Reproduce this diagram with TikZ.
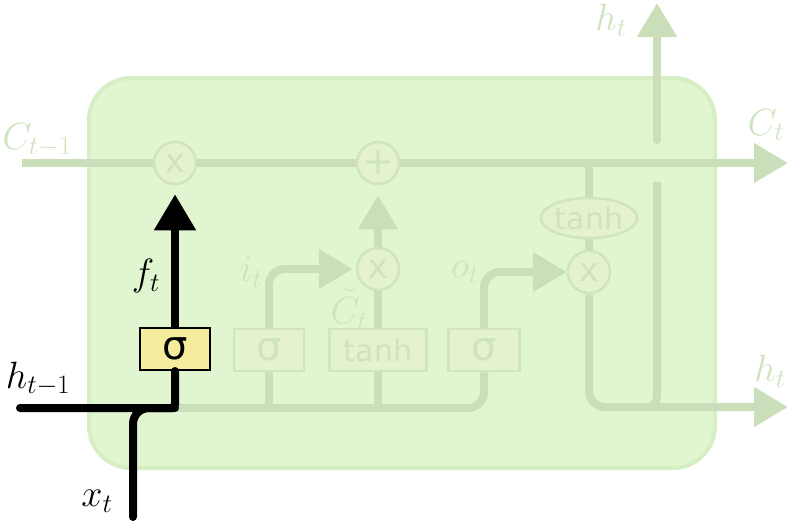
\RequirePackage{fix-cm}
\documentclass[tikz,border=0pt]{standalone}
\usepackage{fontspec}
\newfontfamily\dv{DejaVu Sans}
\usetikzlibrary{arrows.meta,shapes.geometric}
\definecolor{cellfill}{RGB}{224,245,208}
\definecolor{celledge}{RGB}{213,238,195}
\definecolor{fline}{RGB}{202,223,185}
\definecolor{fbox}{RGB}{228,243,206}
\definecolor{fboxedge}{RGB}{207,228,191}
\definecolor{ftext}{RGB}{205,228,189}
\definecolor{sigyellow}{RGB}{245,236,158}
\pgfdeclarelayer{bg}
\pgfdeclarelayer{mid}
\pgfsetlayers{bg,mid,main}
\begin{document}
\begin{tikzpicture}[x=1pt,y=-1pt,
  faded/.style={line width=8pt, draw=fline},
  fadedarrow/.style={faded, -{Triangle[length=34pt,width=38pt]}},
  hot/.style={line width=8pt, draw=black, line cap=round},
  gatebox/.style={draw=fboxedge, fill=fbox, line width=2.5pt, minimum width=70pt, minimum height=42pt, inner sep=0pt, text=ftext},
  sigfont/.style={font=\dv\fontsize{40}{40}\selectfont},
  tanhfont/.style={font=\dv\fontsize{30}{30}\selectfont},
  opcircle/.style={circle, draw=fboxedge, fill=fbox, line width=2.5pt, minimum size=42pt, inner sep=0pt, text=ftext, font=\dv\fontsize{33}{33}\selectfont},
  lbl/.style={font=\fontsize{38}{38}\selectfont, inner sep=0pt},
  flbl/.style={lbl, text=ftext}
]
\useasboundingbox (0,0) rectangle (789,525);

% coordinates
\coordinate (cin) at (22,163);
\coordinate (cout) at (788,163);
\coordinate (hin) at (20,408);
\coordinate (xin) at (133,517);
\coordinate (hout) at (788,407);
\coordinate (hupbot) at (657,407);
\coordinate (hupmid) at (657,182);
\coordinate (hupstart) at (657,140);
\coordinate (huptop) at (657,3);
\coordinate (hjoin) at (640,407);

% cell
\begin{pgfonlayer}{bg}
\node (cell) [draw=celledge, fill=cellfill, line width=4pt, rounded corners=42pt,
  minimum width=626pt, minimum height=390pt, inner sep=0pt] at (402,273) {};
\end{pgfonlayer}

% nodes
\node (mulf) [opcircle] at (175,163) {x};
\node (add) [opcircle, font=\dv\fontsize{38}{38}\selectfont] at (378,163) {+};
\node (muli) [opcircle] at (378,269) {x};
\node (mulo) [opcircle] at (589,272) {x};
\node (tanho) [ellipse, draw=fboxedge, fill=fbox, line width=2.5pt, minimum width=96pt, minimum height=40pt, inner sep=0pt, text=ftext, tanhfont] at (589,218) {tanh};
\node (sigf) [gatebox, sigfont, draw=black, line width=2pt, fill=sigyellow, text=black] at (175,349) {σ};
\node (sigi) [gatebox, sigfont] at (269,350) {σ};
\node (tanhc) [gatebox, tanhfont, minimum width=97pt] at (378,350) {tanh};
\node (sigo) [gatebox, sigfont, minimum width=71pt] at (484,350) {σ};

% faded connectors
\begin{pgfonlayer}{mid}
\draw[fadedarrow] (cin) -- (cout);
\draw[faded, rounded corners=16pt] (sigf.south |- hin) -- (sigo.south |- hin) -- (sigo.south);
\draw[faded] (sigi.south) -- (sigi.south |- hin);
\draw[faded] (tanhc.south) -- (tanhc.south |- hin);
\draw[faded] (tanhc.north) -- (muli.south);
\draw[fadedarrow, rounded corners=16pt, shorten >=3pt] (sigi.north) -- (sigi.north |- muli) -- (muli.west);
\draw[fadedarrow, shorten >=10pt] (muli.north) -- (add.south);
\draw[fadedarrow, rounded corners=16pt] (sigo.north) -- (sigo.north |- mulo) -- (mulo.west);
\draw[faded] (tanho.north |- cin) -- (tanho.north);
\draw[faded] (tanho.south) -- (mulo.north);
\draw[fadedarrow, rounded corners=16pt] (mulo.south) -- (mulo.south |- hout) -- (hout);
\draw[faded, rounded corners=10pt] (hupmid) -- (hupbot) -- (hjoin);
\draw[fadedarrow, line cap=round] (hupstart) -- (huptop);
\end{pgfonlayer}

% black forget-gate path
\draw[hot, rounded corners=4pt] (hin) -- (sigf.south |- hin) -- (sigf.south);
\draw[hot, rounded corners=16pt] (xin) -- (xin |- hin) -- (sigf.south |- hin);
\draw[hot, line cap=butt, -{Triangle[length=36pt,width=40pt]}, shorten >=9pt] (sigf.north) -- (mulf.south);

% labels
\node[flbl] at (349,309) {$\tilde{C}_t$};
\node[flbl] at (37,140) {$C_{t-1}$};
\node[flbl] at (251,272) {$i_t$};
\node[flbl] at (465,272) {$o_t$};
\node[flbl] at (611,20) {$h_t$};
\node[flbl] at (766,125) {$C_t$};
\node[flbl] at (770,371) {$h_t$};
\node[lbl] at (38,379) {$h_{t-1}$};
\node[lbl] at (146,276) {$f_t$};
\node[lbl] at (97,501) {$x_t$};
\end{tikzpicture}
\end{document}
